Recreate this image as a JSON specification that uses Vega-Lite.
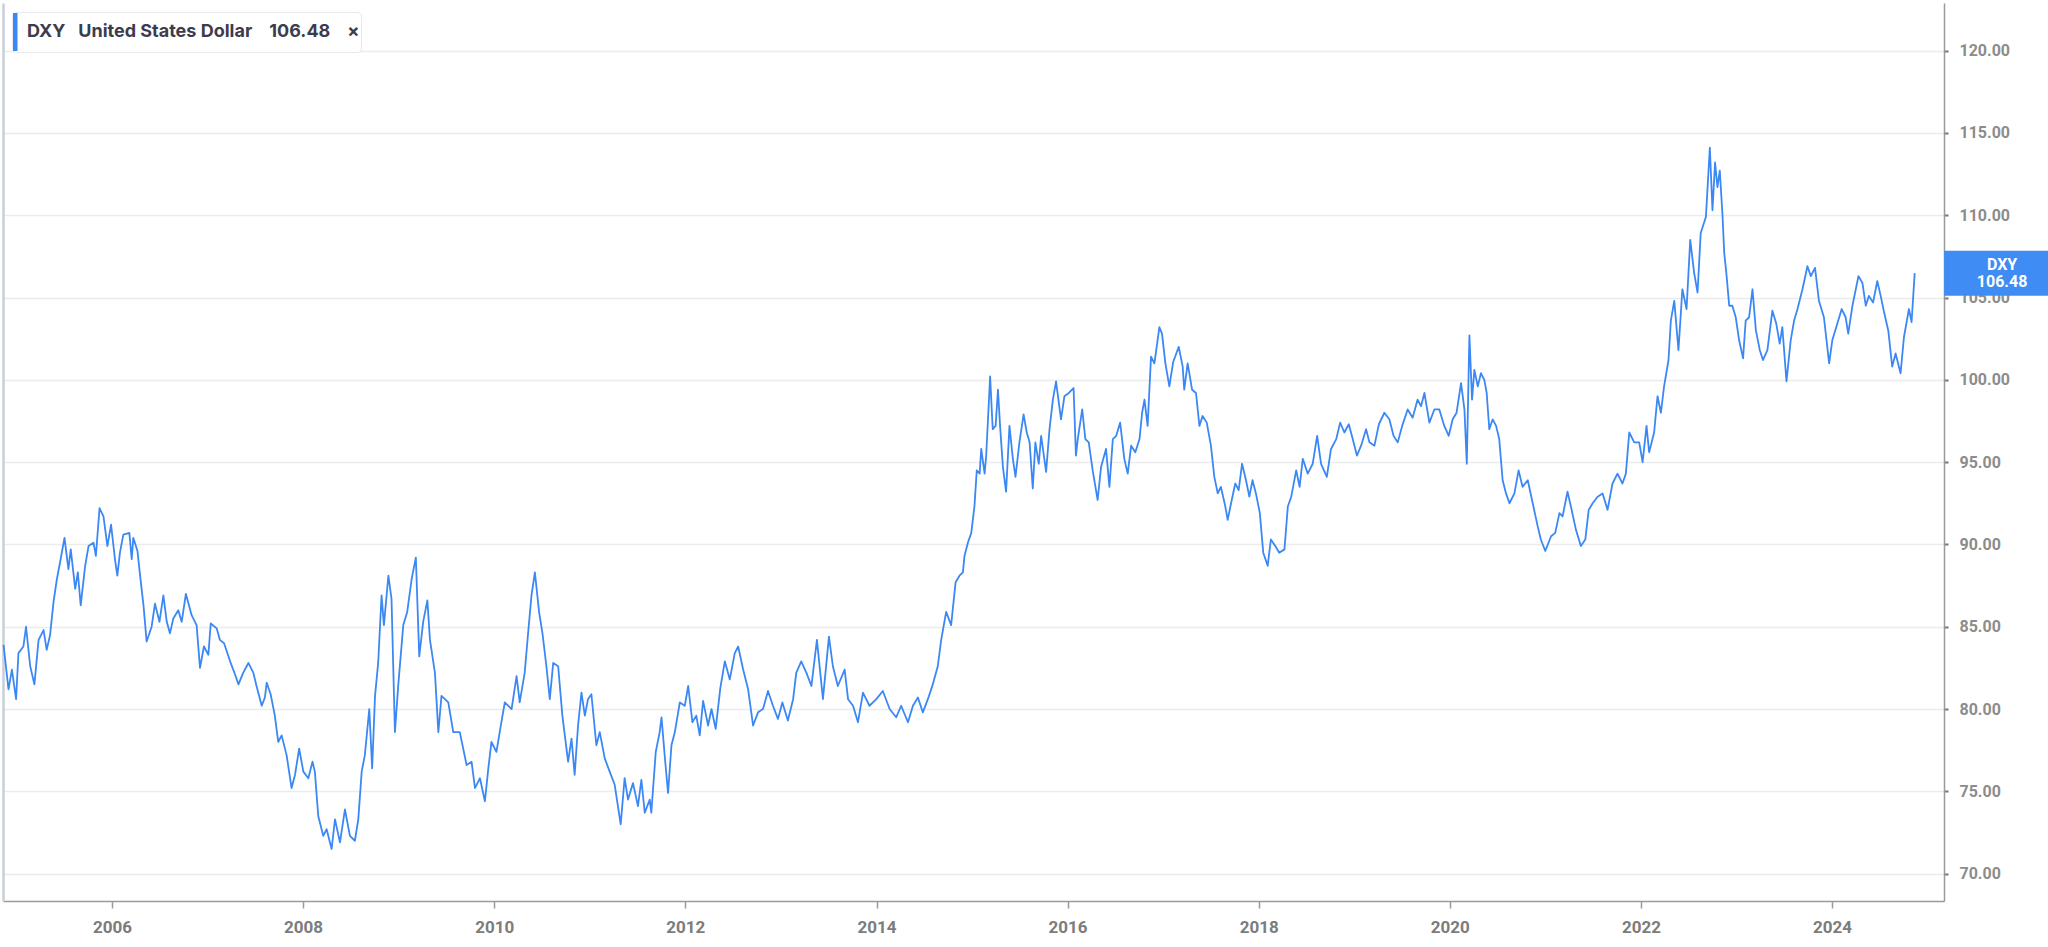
{
  "$schema": "https://vega.github.io/schema/vega-lite/v6.json",
  "width": 1941,
  "height": 898,
  "autosize": {"type": "none"},
  "padding": {"left": 3, "top": 3, "right": 104, "bottom": 46},
  "background": "white",
  "config": {"view": {"stroke": null}, "font": "Roboto"},
  "datasets": {
    "last": [{"ticker": "DXY", "value": 106.48}],
    "dxy": [
{"d":"2004-11-12","v":83.9},{"d":"2004-12-01","v":81.2},{"d":"2004-12-14","v":82.4},{"d":"2004-12-30","v":80.6},
{"d":"2005-01-08","v":83.4},{"d":"2005-01-27","v":83.8},{"d":"2005-02-06","v":85.0},{"d":"2005-02-22","v":82.6},
{"d":"2005-03-10","v":81.5},{"d":"2005-03-26","v":84.2},{"d":"2005-04-14","v":84.8},{"d":"2005-04-26","v":83.6},
{"d":"2005-05-09","v":84.5},{"d":"2005-05-22","v":86.5},{"d":"2005-06-04","v":87.9},{"d":"2005-06-16","v":88.9},
{"d":"2005-07-03","v":90.4},{"d":"2005-07-18","v":88.5},{"d":"2005-07-27","v":89.7},{"d":"2005-08-13","v":87.3},
{"d":"2005-08-23","v":88.3},{"d":"2005-09-03","v":86.3},{"d":"2005-09-20","v":88.7},{"d":"2005-10-03","v":89.9},
{"d":"2005-10-22","v":90.1},{"d":"2005-10-31","v":89.3},{"d":"2005-11-14","v":92.2},{"d":"2005-11-29","v":91.7},
{"d":"2005-12-14","v":89.9},{"d":"2005-12-28","v":91.2},{"d":"2006-01-12","v":89.1},{"d":"2006-01-21","v":88.1},
{"d":"2006-01-31","v":89.5},{"d":"2006-02-13","v":90.6},{"d":"2006-03-08","v":90.7},{"d":"2006-03-17","v":89.1},
{"d":"2006-03-23","v":90.4},{"d":"2006-04-08","v":89.6},{"d":"2006-04-18","v":88.1},{"d":"2006-05-01","v":86.3},
{"d":"2006-05-13","v":84.1},{"d":"2006-06-01","v":85.0},{"d":"2006-06-14","v":86.4},{"d":"2006-07-01","v":85.3},
{"d":"2006-07-16","v":86.9},{"d":"2006-07-29","v":85.3},{"d":"2006-08-10","v":84.6},{"d":"2006-08-23","v":85.5},
{"d":"2006-09-11","v":86.0},{"d":"2006-09-24","v":85.3},{"d":"2006-10-10","v":87.0},{"d":"2006-11-01","v":85.7},
{"d":"2006-11-20","v":85.1},{"d":"2006-12-03","v":82.5},{"d":"2006-12-18","v":83.8},{"d":"2007-01-04","v":83.3},
{"d":"2007-01-13","v":85.2},{"d":"2007-02-05","v":84.9},{"d":"2007-02-17","v":84.2},{"d":"2007-03-05","v":84.0},
{"d":"2007-03-28","v":82.9},{"d":"2007-04-16","v":82.1},{"d":"2007-04-29","v":81.5},{"d":"2007-05-17","v":82.2},
{"d":"2007-06-06","v":82.8},{"d":"2007-06-25","v":82.2},{"d":"2007-07-07","v":81.4},{"d":"2007-07-27","v":80.2},
{"d":"2007-08-08","v":80.7},{"d":"2007-08-15","v":81.6},{"d":"2007-08-30","v":80.9},{"d":"2007-09-15","v":79.6},
{"d":"2007-09-28","v":78.0},{"d":"2007-10-11","v":78.4},{"d":"2007-10-30","v":77.2},{"d":"2007-11-18","v":75.2},
{"d":"2007-12-01","v":76.0},{"d":"2007-12-17","v":77.6},{"d":"2008-01-02","v":76.2},{"d":"2008-01-21","v":75.8},
{"d":"2008-02-06","v":76.8},{"d":"2008-02-15","v":76.2},{"d":"2008-02-28","v":73.5},{"d":"2008-03-18","v":72.3},
{"d":"2008-03-31","v":72.7},{"d":"2008-04-19","v":71.5},{"d":"2008-05-02","v":73.3},{"d":"2008-05-21","v":71.9},
{"d":"2008-06-09","v":73.9},{"d":"2008-06-28","v":72.3},{"d":"2008-07-17","v":72.0},{"d":"2008-07-30","v":73.3},
{"d":"2008-08-12","v":76.2},{"d":"2008-08-24","v":77.2},{"d":"2008-09-10","v":80.0},{"d":"2008-09-21","v":76.4},
{"d":"2008-10-02","v":80.8},{"d":"2008-10-14","v":82.8},{"d":"2008-10-27","v":86.9},{"d":"2008-11-05","v":85.1},
{"d":"2008-11-22","v":88.1},{"d":"2008-12-04","v":86.7},{"d":"2008-12-17","v":78.6},{"d":"2008-12-30","v":81.5},
{"d":"2009-01-18","v":85.1},{"d":"2009-02-02","v":85.9},{"d":"2009-02-19","v":87.9},{"d":"2009-03-07","v":89.2},
{"d":"2009-03-20","v":83.2},{"d":"2009-04-04","v":85.3},{"d":"2009-04-20","v":86.6},{"d":"2009-04-30","v":84.2},
{"d":"2009-05-19","v":82.2},{"d":"2009-06-01","v":78.6},{"d":"2009-06-13","v":80.8},{"d":"2009-07-09","v":80.4},
{"d":"2009-07-28","v":78.6},{"d":"2009-08-22","v":78.6},{"d":"2009-09-17","v":76.6},{"d":"2009-10-06","v":76.8},
{"d":"2009-10-19","v":75.2},{"d":"2009-11-07","v":75.8},{"d":"2009-11-26","v":74.4},{"d":"2009-12-09","v":76.4},
{"d":"2009-12-21","v":78.0},{"d":"2010-01-09","v":77.4},{"d":"2010-01-28","v":79.2},{"d":"2010-02-10","v":80.4},
{"d":"2010-03-08","v":80.0},{"d":"2010-03-27","v":82.0},{"d":"2010-04-08","v":80.4},{"d":"2010-04-27","v":82.2},
{"d":"2010-05-10","v":84.6},{"d":"2010-05-23","v":86.9},{"d":"2010-06-05","v":88.3},{"d":"2010-06-21","v":85.9},
{"d":"2010-07-04","v":84.6},{"d":"2010-07-19","v":82.6},{"d":"2010-08-01","v":80.6},{"d":"2010-08-14","v":82.8},
{"d":"2010-09-02","v":82.6},{"d":"2010-09-18","v":79.6},{"d":"2010-10-10","v":76.8},{"d":"2010-10-23","v":78.2},
{"d":"2010-11-04","v":76.0},{"d":"2010-11-17","v":79.0},{"d":"2010-11-30","v":81.0},{"d":"2010-12-13","v":79.6},
{"d":"2010-12-25","v":80.6},{"d":"2011-01-07","v":80.9},{"d":"2011-01-26","v":77.8},{"d":"2011-02-08","v":78.6},
{"d":"2011-02-27","v":77.0},{"d":"2011-03-18","v":76.2},{"d":"2011-04-06","v":75.4},{"d":"2011-04-29","v":73.0},
{"d":"2011-05-14","v":75.8},{"d":"2011-05-27","v":74.5},{"d":"2011-06-15","v":75.5},{"d":"2011-07-04","v":74.1},
{"d":"2011-07-17","v":75.7},{"d":"2011-07-30","v":73.7},{"d":"2011-08-18","v":74.5},{"d":"2011-08-24","v":73.7},
{"d":"2011-09-10","v":77.4},{"d":"2011-09-25","v":78.6},{"d":"2011-10-02","v":79.5},{"d":"2011-10-14","v":77.2},
{"d":"2011-10-27","v":74.9},{"d":"2011-11-09","v":77.8},{"d":"2011-11-22","v":78.6},{"d":"2011-12-11","v":80.4},
{"d":"2011-12-30","v":80.2},{"d":"2012-01-12","v":81.4},{"d":"2012-01-28","v":79.2},{"d":"2012-02-12","v":79.6},
{"d":"2012-02-25","v":78.4},{"d":"2012-03-09","v":80.5},{"d":"2012-03-28","v":79.0},{"d":"2012-04-10","v":80.0},
{"d":"2012-04-26","v":78.8},{"d":"2012-05-14","v":81.3},{"d":"2012-05-31","v":82.9},{"d":"2012-06-19","v":81.8},
{"d":"2012-07-08","v":83.4},{"d":"2012-07-21","v":83.8},{"d":"2012-08-09","v":82.4},{"d":"2012-08-28","v":81.2},
{"d":"2012-09-16","v":79.0},{"d":"2012-10-05","v":79.8},{"d":"2012-10-24","v":80.0},{"d":"2012-11-12","v":81.1},
{"d":"2012-12-01","v":80.2},{"d":"2012-12-20","v":79.4},{"d":"2013-01-06","v":80.4},{"d":"2013-01-27","v":79.3},
{"d":"2013-02-16","v":80.6},{"d":"2013-02-28","v":82.2},{"d":"2013-03-19","v":82.9},{"d":"2013-04-08","v":82.2},
{"d":"2013-04-27","v":81.4},{"d":"2013-05-18","v":84.2},{"d":"2013-06-10","v":80.6},{"d":"2013-07-03","v":84.4},
{"d":"2013-07-18","v":82.6},{"d":"2013-08-06","v":81.4},{"d":"2013-09-01","v":82.4},{"d":"2013-09-14","v":80.6},
{"d":"2013-10-03","v":80.2},{"d":"2013-10-22","v":79.2},{"d":"2013-11-10","v":81.0},{"d":"2013-12-05","v":80.2},
{"d":"2013-12-31","v":80.6},{"d":"2014-01-25","v":81.1},{"d":"2014-02-20","v":80.0},{"d":"2014-03-17","v":79.5},
{"d":"2014-04-05","v":80.2},{"d":"2014-05-01","v":79.2},{"d":"2014-05-20","v":80.2},{"d":"2014-06-08","v":80.7},
{"d":"2014-06-27","v":79.8},{"d":"2014-07-16","v":80.6},{"d":"2014-08-04","v":81.5},{"d":"2014-08-23","v":82.6},
{"d":"2014-09-05","v":84.2},{"d":"2014-09-24","v":85.9},{"d":"2014-10-13","v":85.1},{"d":"2014-10-30","v":87.7},
{"d":"2014-11-14","v":88.1},{"d":"2014-11-27","v":88.3},{"d":"2014-12-03","v":89.3},{"d":"2014-12-16","v":90.1},
{"d":"2014-12-29","v":90.7},{"d":"2015-01-10","v":92.3},{"d":"2015-01-19","v":94.5},{"d":"2015-01-30","v":94.3},
{"d":"2015-02-05","v":95.8},{"d":"2015-02-18","v":94.3},{"d":"2015-02-24","v":95.4},{"d":"2015-03-11","v":100.2},
{"d":"2015-03-21","v":97.0},{"d":"2015-04-01","v":97.2},{"d":"2015-04-10","v":99.4},{"d":"2015-04-18","v":97.2},
{"d":"2015-04-29","v":94.7},{"d":"2015-05-11","v":93.2},{"d":"2015-05-24","v":97.2},{"d":"2015-06-06","v":95.2},
{"d":"2015-06-16","v":94.1},{"d":"2015-07-01","v":96.2},{"d":"2015-07-17","v":97.9},{"d":"2015-07-29","v":96.8},
{"d":"2015-08-09","v":96.2},{"d":"2015-08-21","v":93.4},{"d":"2015-08-31","v":96.2},{"d":"2015-09-13","v":94.9},
{"d":"2015-09-22","v":96.6},{"d":"2015-10-11","v":94.4},{"d":"2015-10-24","v":97.0},{"d":"2015-11-06","v":98.8},
{"d":"2015-11-18","v":99.9},{"d":"2015-12-07","v":97.6},{"d":"2015-12-20","v":99.0},{"d":"2016-01-06","v":99.2},
{"d":"2016-01-24","v":99.5},{"d":"2016-02-02","v":95.4},{"d":"2016-02-09","v":96.4},{"d":"2016-02-26","v":98.2},
{"d":"2016-03-09","v":96.4},{"d":"2016-03-22","v":96.2},{"d":"2016-04-06","v":94.5},{"d":"2016-04-25","v":92.7},
{"d":"2016-05-08","v":94.7},{"d":"2016-05-27","v":95.8},{"d":"2016-06-09","v":93.5},{"d":"2016-06-22","v":96.4},
{"d":"2016-07-05","v":96.6},{"d":"2016-07-20","v":97.4},{"d":"2016-08-05","v":95.2},{"d":"2016-08-18","v":94.3},
{"d":"2016-08-31","v":96.0},{"d":"2016-09-16","v":95.6},{"d":"2016-10-02","v":96.4},{"d":"2016-10-12","v":98.0},
{"d":"2016-10-21","v":98.8},{"d":"2016-11-02","v":97.2},{"d":"2016-11-15","v":101.4},{"d":"2016-11-28","v":101.0},
{"d":"2016-12-17","v":103.2},{"d":"2016-12-27","v":102.8},{"d":"2017-01-09","v":101.0},{"d":"2017-01-24","v":99.6},
{"d":"2017-02-08","v":101.1},{"d":"2017-03-01","v":102.0},{"d":"2017-03-16","v":100.8},{"d":"2017-03-22","v":99.4},
{"d":"2017-04-04","v":101.0},{"d":"2017-04-21","v":99.4},{"d":"2017-05-06","v":99.2},{"d":"2017-05-19","v":97.2},
{"d":"2017-05-31","v":97.8},{"d":"2017-06-16","v":97.4},{"d":"2017-07-02","v":96.0},{"d":"2017-07-15","v":94.1},
{"d":"2017-07-28","v":93.1},{"d":"2017-08-09","v":93.5},{"d":"2017-08-26","v":92.3},{"d":"2017-09-04","v":91.5},
{"d":"2017-09-17","v":92.5},{"d":"2017-10-03","v":93.7},{"d":"2017-10-16","v":93.3},{"d":"2017-10-29","v":94.9},
{"d":"2017-11-13","v":93.9},{"d":"2017-11-26","v":92.9},{"d":"2017-12-08","v":93.9},{"d":"2017-12-21","v":93.1},
{"d":"2018-01-05","v":91.9},{"d":"2018-01-18","v":89.5},{"d":"2018-02-04","v":88.7},{"d":"2018-02-16","v":90.3},
{"d":"2018-03-05","v":89.9},{"d":"2018-03-20","v":89.5},{"d":"2018-04-09","v":89.7},{"d":"2018-04-22","v":92.3},
{"d":"2018-05-05","v":92.9},{"d":"2018-05-24","v":94.5},{"d":"2018-06-06","v":93.5},{"d":"2018-06-18","v":95.2},
{"d":"2018-07-07","v":94.3},{"d":"2018-07-26","v":94.9},{"d":"2018-08-12","v":96.6},{"d":"2018-08-27","v":94.9},
{"d":"2018-09-18","v":94.1},{"d":"2018-10-04","v":95.8},{"d":"2018-10-24","v":96.4},{"d":"2018-11-08","v":97.4},
{"d":"2018-11-24","v":96.8},{"d":"2018-12-11","v":97.3},{"d":"2018-12-26","v":96.4},{"d":"2019-01-11","v":95.4},
{"d":"2019-01-27","v":96.0},{"d":"2019-02-15","v":97.0},{"d":"2019-02-28","v":96.2},{"d":"2019-03-19","v":96.0},
{"d":"2019-04-05","v":97.3},{"d":"2019-04-26","v":98.0},{"d":"2019-05-15","v":97.6},{"d":"2019-05-31","v":96.6},
{"d":"2019-06-16","v":96.2},{"d":"2019-07-03","v":97.2},{"d":"2019-07-24","v":98.2},{"d":"2019-08-12","v":97.7},
{"d":"2019-08-31","v":98.8},{"d":"2019-09-13","v":98.4},{"d":"2019-09-26","v":99.2},{"d":"2019-10-15","v":97.4},
{"d":"2019-11-03","v":98.2},{"d":"2019-11-22","v":98.2},{"d":"2019-12-11","v":97.2},{"d":"2019-12-28","v":96.6},
{"d":"2020-01-12","v":97.6},{"d":"2020-01-27","v":98.0},{"d":"2020-02-13","v":99.8},{"d":"2020-02-26","v":98.2},
{"d":"2020-03-06","v":94.9},{"d":"2020-03-16","v":102.7},{"d":"2020-03-26","v":98.8},{"d":"2020-04-04","v":100.6},
{"d":"2020-04-17","v":99.6},{"d":"2020-04-29","v":100.4},{"d":"2020-05-12","v":100.0},{"d":"2020-05-21","v":99.2},
{"d":"2020-05-31","v":97.0},{"d":"2020-06-13","v":97.6},{"d":"2020-06-26","v":97.2},{"d":"2020-07-08","v":96.4},
{"d":"2020-07-21","v":93.9},{"d":"2020-08-03","v":93.1},{"d":"2020-08-16","v":92.5},{"d":"2020-09-04","v":93.1},
{"d":"2020-09-20","v":94.5},{"d":"2020-10-05","v":93.5},{"d":"2020-10-25","v":93.9},{"d":"2020-11-13","v":92.5},
{"d":"2020-12-02","v":91.1},{"d":"2020-12-14","v":90.3},{"d":"2020-12-31","v":89.6},{"d":"2021-01-22","v":90.5},
{"d":"2021-02-07","v":90.7},{"d":"2021-02-23","v":91.9},{"d":"2021-03-07","v":91.7},{"d":"2021-03-26","v":93.2},
{"d":"2021-04-08","v":92.3},{"d":"2021-04-27","v":90.9},{"d":"2021-05-16","v":89.9},{"d":"2021-06-02","v":90.3},
{"d":"2021-06-15","v":92.1},{"d":"2021-06-30","v":92.5},{"d":"2021-07-19","v":92.9},{"d":"2021-08-07","v":93.1},
{"d":"2021-08-26","v":92.1},{"d":"2021-09-14","v":93.7},{"d":"2021-10-03","v":94.3},{"d":"2021-10-22","v":93.7},
{"d":"2021-11-04","v":94.3},{"d":"2021-11-17","v":96.8},{"d":"2021-12-06","v":96.2},{"d":"2021-12-25","v":96.2},
{"d":"2022-01-07","v":95.0},{"d":"2022-01-22","v":97.2},{"d":"2022-02-01","v":95.6},{"d":"2022-02-20","v":96.8},
{"d":"2022-03-05","v":99.0},{"d":"2022-03-18","v":98.0},{"d":"2022-03-30","v":99.6},{"d":"2022-04-16","v":101.2},
{"d":"2022-04-25","v":103.6},{"d":"2022-05-08","v":104.8},{"d":"2022-05-24","v":101.8},{"d":"2022-06-08","v":105.5},
{"d":"2022-06-24","v":104.3},{"d":"2022-07-08","v":108.5},{"d":"2022-07-23","v":106.5},{"d":"2022-08-05","v":105.3},
{"d":"2022-08-17","v":108.9},{"d":"2022-09-06","v":109.9},{"d":"2022-09-21","v":114.1},{"d":"2022-10-01","v":110.3},
{"d":"2022-10-11","v":113.2},{"d":"2022-10-20","v":111.7},{"d":"2022-10-29","v":112.7},{"d":"2022-11-08","v":110.1},
{"d":"2022-11-15","v":107.7},{"d":"2022-11-23","v":106.5},{"d":"2022-12-04","v":104.5},{"d":"2022-12-16","v":104.5},
{"d":"2022-12-29","v":103.8},{"d":"2023-01-11","v":102.4},{"d":"2023-01-26","v":101.3},{"d":"2023-02-05","v":103.6},
{"d":"2023-02-18","v":103.8},{"d":"2023-03-03","v":105.5},{"d":"2023-03-16","v":103.0},{"d":"2023-03-31","v":101.8},
{"d":"2023-04-12","v":101.2},{"d":"2023-04-29","v":101.8},{"d":"2023-05-18","v":104.2},{"d":"2023-06-02","v":103.4},
{"d":"2023-06-15","v":102.2},{"d":"2023-06-25","v":103.2},{"d":"2023-07-11","v":99.9},{"d":"2023-07-27","v":102.4},
{"d":"2023-08-09","v":103.6},{"d":"2023-08-22","v":104.3},{"d":"2023-09-10","v":105.5},{"d":"2023-09-29","v":106.9},
{"d":"2023-10-12","v":106.3},{"d":"2023-10-28","v":106.8},{"d":"2023-11-12","v":104.8},{"d":"2023-12-01","v":103.8},
{"d":"2023-12-21","v":101.0},{"d":"2024-01-02","v":102.4},{"d":"2024-01-21","v":103.4},{"d":"2024-02-07","v":104.3},
{"d":"2024-02-22","v":103.8},{"d":"2024-03-03","v":102.8},{"d":"2024-03-19","v":104.5},{"d":"2024-04-11","v":106.3},
{"d":"2024-04-26","v":105.9},{"d":"2024-05-09","v":104.5},{"d":"2024-05-21","v":105.1},{"d":"2024-06-06","v":104.7},
{"d":"2024-06-22","v":106.0},{"d":"2024-07-05","v":105.1},{"d":"2024-07-18","v":104.1},{"d":"2024-08-03","v":103.0},
{"d":"2024-08-18","v":100.8},{"d":"2024-08-31","v":101.6},{"d":"2024-09-19","v":100.4},{"d":"2024-10-02","v":102.6},
{"d":"2024-10-21","v":104.3},{"d":"2024-10-31","v":103.5},{"d":"2024-11-12","v":106.48}
    ]
  },
  "layer": [
    {
      "data": {"name": "dxy"},
      "mark": {"type": "line", "strokeWidth": 1.8, "strokeJoin": "round"},
      "encoding": {
        "x": {
          "field": "d", "type": "temporal",
          "scale": {"type": "utc", "domain": [{"year": 2004, "month": 11, "date": 10, "utc": true}, {"year": 2025, "month": 3, "date": 4, "utc": true}]},
          "axis": {
            "title": null, "format": "%Y", "grid": false,
            "values": [{"year": 2006, "utc": true}, {"year": 2008, "utc": true}, {"year": 2010, "utc": true}, {"year": 2012, "utc": true}, {"year": 2014, "utc": true}, {"year": 2016, "utc": true}, {"year": 2018, "utc": true}, {"year": 2020, "utc": true}, {"year": 2022, "utc": true}, {"year": 2024, "utc": true}],
            "domainColor": "#9a9a9a", "domainWidth": 1.5, "tickColor": "#9a9a9a", "tickWidth": 1.5, "tickSize": 7,
            "labelPadding": 11, "labelFont": "Roboto", "labelFontSize": 17, "labelFontWeight": "bold", "labelColor": "#7c7c7c"
          }
        },
        "y": {
          "field": "v", "type": "quantitative",
          "scale": {"domain": [68.34, 122.89], "nice": false, "zero": false},
          "axis": {
            "orient": "right", "title": null, "format": ".2f",
            "values": [70, 75, 80, 85, 90, 95, 100, 105, 110, 115, 120],
            "grid": true, "gridColor": "#ececec", "gridWidth": 1.5,
            "domainColor": "#9a9a9a", "domainWidth": 1.5, "tickColor": "#777777", "tickSize": 4, "tickWidth": 2,
            "labelPadding": 11, "labelFont": "Roboto", "labelFontSize": 16, "labelFontWeight": "bold", "labelColor": "#8c8c8c"
          }
        },
        "color": {
          "datum": "DXY\u00a0\u00a0\u00a0United States Dollar\u00a0\u00a0\u00a0\u00a0106.48\u00a0\u00a0\u00a0\u00a0\u00d7\u00a0\u00a0\u00a0\u00a0\u00a0\u00a0\u00a0\u00a0",
          "scale": {"range": ["#3b88f5"]},
          "legend": {
            "orient": "top-left", "offset": 8.5, "title": null, "padding": 1, "clipHeight": 38,
            "fillColor": "white", "strokeColor": "#e8e8ee", "cornerRadius": 4,
            "symbolType": "M0,-7.6L0,7.6", "symbolSize": 25, "symbolStrokeWidth": 5, "symbolOffset": -7,
            "labelOffset": 3, "labelFont": "Inter", "labelFontSize": 18, "labelFontWeight": "bold", "labelColor": "#3c3c4c", "labelLimit": 0
          }
        }
      }
    },
    {
      "data": {"name": "last"},
      "mark": {"type": "point", "filled": true, "opacity": 1, "shape": "M-1,-0.388L1,-0.388L1,0.388L-1,0.388Z", "size": 13456, "color": "#3f8cf5", "strokeWidth": 0},
      "encoding": {
        "x": {"datum": {"year": 2025, "month": 10, "date": 12, "utc": true}, "type": "temporal"},
        "y": {"field": "value", "type": "quantitative",
          "axis": {"orient": "left", "labels": false, "ticks": false, "grid": false, "title": null, "domainColor": "#c9cfd9", "domainWidth": 2.5}}
      }
    },
    {
      "data": {"name": "last"},
      "mark": {"type": "text", "color": "white", "font": "Roboto", "fontSize": 16, "fontWeight": "bold", "dy": -8, "align": "center", "baseline": "middle"},
      "encoding": {
        "x": {"datum": {"year": 2025, "month": 10, "date": 12, "utc": true}, "type": "temporal"},
        "y": {"field": "value", "type": "quantitative", "axis": null},
        "text": {"field": "ticker"}
      }
    },
    {
      "data": {"name": "last"},
      "mark": {"type": "text", "color": "white", "font": "Roboto", "fontSize": 16, "fontWeight": "bold", "dy": 9, "align": "center", "baseline": "middle"},
      "encoding": {
        "x": {"datum": {"year": 2025, "month": 10, "date": 12, "utc": true}, "type": "temporal"},
        "y": {"field": "value", "type": "quantitative", "axis": null},
        "text": {"field": "value", "format": ".2f"}
      }
    }
  ],
  "resolve": {"axis": {"y": "independent"}}
}
